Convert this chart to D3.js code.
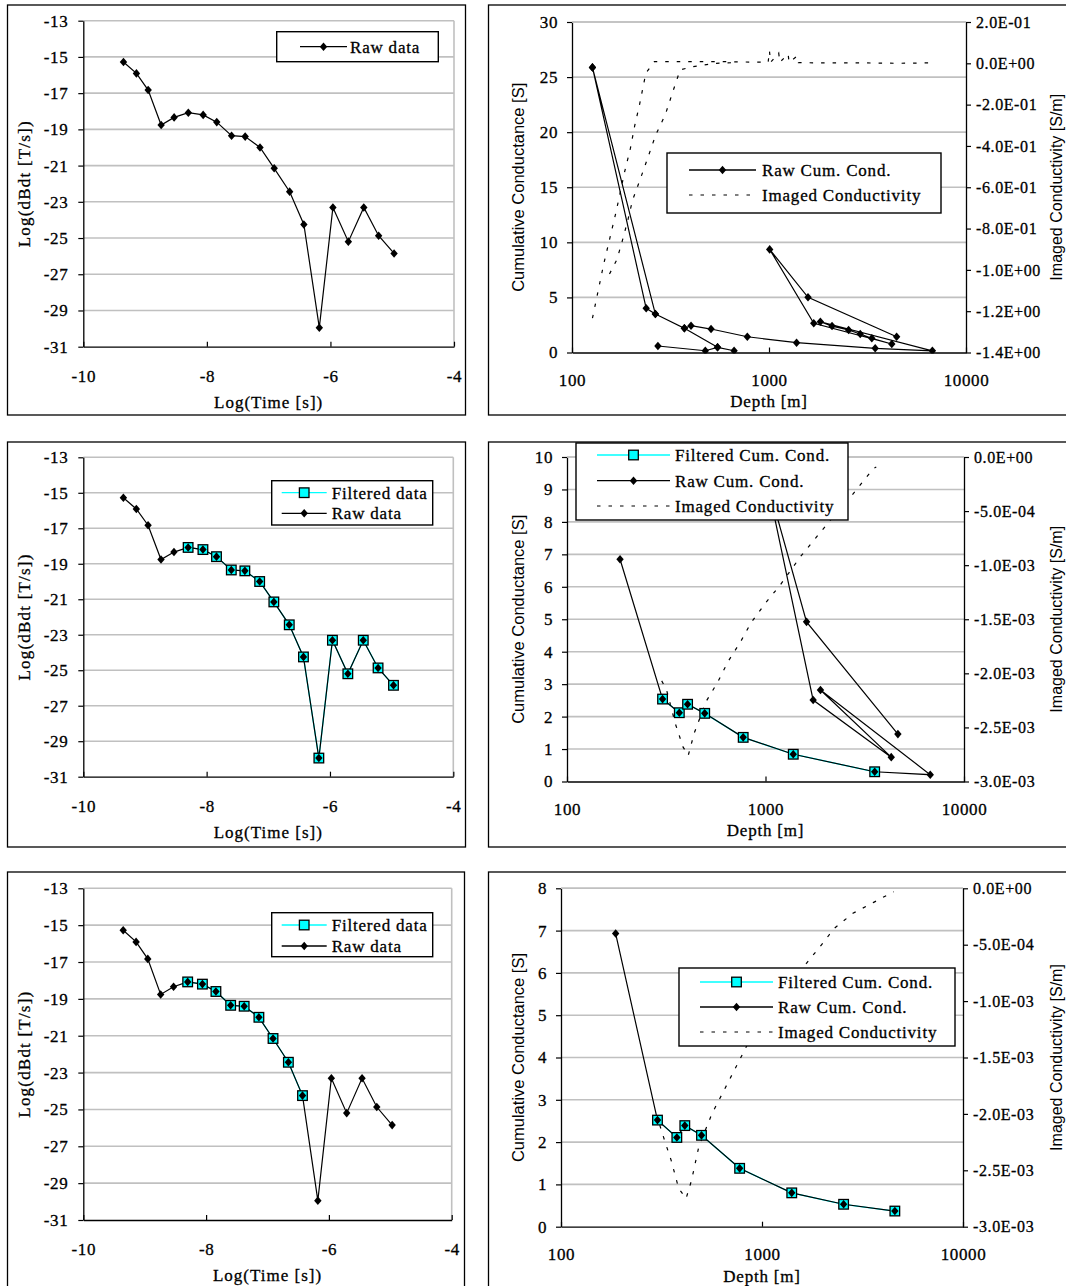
<!DOCTYPE html>
<html><head><meta charset="utf-8">
<script src="https://cdn.jsdelivr.net/npm/d3@7"></script>
<style>
body{margin:0;background:#fff}
svg{display:block}
</style></head><body>
<script>
// ================= DATA =================
// Transient decay (left column)
const logTime    = [-9.35,-9.14,-8.95,-8.74,-8.53,-8.30,-8.06,-7.84,-7.60,-7.38,-7.14,-6.91,-6.66,-6.43,-6.18,-5.96,-5.71,-5.46,-5.22,-4.97];
const rawLogDbdt = [-15.28,-15.91,-16.83,-18.76,-18.34,-18.08,-18.20,-18.60,-19.35,-19.40,-20.00,-21.15,-22.44,-24.25,-29.95,-23.31,-25.20,-23.31,-24.87,-25.85];
const filtALogTime = [-8.30,-8.06,-7.84,-7.60,-7.38,-7.14,-6.91,-6.66,-6.43,-6.18,-5.96,-5.71,-5.46,-5.22,-4.97];
const filtALogDbdt = [-18.08,-18.20,-18.60,-19.35,-19.40,-20.00,-21.15,-22.44,-24.25,-29.95,-23.31,-25.20,-23.31,-24.87,-25.85];
const filtBLogTime = [-8.30,-8.06,-7.84,-7.60,-7.38,-7.14,-6.91,-6.66,-6.43];
const filtBLogDbdt = [-18.08,-18.20,-18.60,-19.35,-19.40,-20.00,-21.15,-22.44,-24.25];
const decayYTicks = [-13,-15,-17,-19,-21,-23,-25,-27,-29,-31];
const decayXTicks = [-10,-8,-6,-4];

// Depth panels (right column); null = break in the line
const depthTicks = [100,1000,10000];
// panel 2
const raw2Depth = [127,238,265,372,402,508,776,1380,3459,6750,1823,2089,2535,2904,3325,4200,1687,1008,1578,4446,null,127,265,null,372,548,null,273,475,548,665];
const raw2Cum   = [25.88,4.01,3.49,2.20,2.43,2.13,1.43,0.89,0.38,0.15,2.79,2.40,2.04,1.68,1.29,0.77,2.65,9.36,5.01,1.43,null,25.88,3.49,null,2.20,0.47,null,0.59,0.16,0.47,0.16];
const cond2Depth = [127,145,166,171,185,198,208,220,230,237,262,400,600,800,990,1005,1020,1120,1135,1250,1265,1390,1410,2000,3000,4500,6500,null,155,169,180,192,203,222,243,266,298,325,354,410,470,540,700];
const cond2Val   = [-1.234,-0.97,-0.734,-0.678,-0.525,-0.411,-0.303,-0.202,-0.11,-0.048,0.008,0.008,0.008,0.006,0.005,0.06,0.005,0.05,0.005,0.045,0.005,0.035,0.003,0.002,0.002,0.0,0.002,null,-1.02,-0.95,-0.86,-0.76,-0.662,-0.561,-0.455,-0.347,-0.247,-0.137,-0.032,-0.016,-0.008,0.0,0.004];
const cum2Ticks  = [0,5,10,15,20,25,30];
const cond2Ticks = [0.2,0,-0.2,-0.4,-0.6,-0.8,-1.0,-1.2,-1.4];
// panel 4
const raw4Depth  = [185,303,368,405,494,772,1380,3548,6760,1892,4300,1738,1008,1610,4645];
const raw4Cum    = [6.85,2.54,2.12,2.38,2.10,1.36,0.84,0.30,0.21,2.82,0.75,2.51,9.36,4.92,1.46];
const filt4Depth = [303,368,405,494,772,1380,3548];
const filt4Cum   = [2.54,2.12,2.38,2.10,1.36,0.84,0.30];
const cond4Depth = [300,317,352,384,408,438,502,575,648,748,847,1000,1190,1502,1788,1932,2200,2450,2735,2951,3190,3515,3614];
const cond4Val   = [-2.07e-3,-2.15e-3,-2.47e-3,-2.68e-3,-2.76e-3,-2.55e-3,-2.26e-3,-2.08e-3,-1.89e-3,-1.71e-3,-1.53e-3,-1.35e-3,-1.18e-3,-0.92e-3,-0.75e-3,-0.675e-3,-0.55e-3,-0.45e-3,-0.35e-3,-0.274e-3,-0.197e-3,-0.104e-3,-0.093e-3];
const cum4Ticks  = [0,1,2,3,4,5,6,7,8,9,10];
// panel 6
const raw6Depth  = [187,302,377,413,500,774,1406,2547,4581];
const raw6Cum    = [6.93,2.52,2.11,2.39,2.16,1.38,0.80,0.53,0.37];
const filt6Depth = [302,377,413,500,774,1406,2547,4581];
const filt6Cum   = [2.52,2.11,2.39,2.16,1.38,0.80,0.53,0.37];
const cond6Depth = [310,331,353,385,419,446,485,563,674,774,869,1000,1200,1400,1664,1972,2290,2833,3573,4519];
const cond6Val   = [-2.1e-3,-2.26e-3,-2.41e-3,-2.66e-3,-2.75e-3,-2.59e-3,-2.29e-3,-2.0e-3,-1.73e-3,-1.52e-3,-1.345e-3,-1.17e-3,-0.98e-3,-0.82e-3,-0.665e-3,-0.503e-3,-0.355e-3,-0.222e-3,-0.127e-3,-0.03e-3];
const cum6Ticks  = [0,1,2,3,4,5,6,7,8];
const condSmallTicks = [0,-5e-4,-1e-3,-1.5e-3,-2e-3,-2.5e-3,-3e-3];

// ================= DRAWING =================
const SERIF = '"Liberation Serif","Times New Roman",serif';
const SANS  = '"Liberation Sans",Arial,sans-serif';
const GRID = "#c0c0c0";
const svg = d3.select("body").append("svg").attr("width",1066).attr("height",1286);
const zip = (a,b)=>a.map((v,i)=>[v,b[i]]);
const DIAMOND = "M0,-4.3L3.7,0L0,4.3L-3.7,0Z";

function serifText(sel, ls){
  return sel.style("font-family",SERIF).style("font-size","17px").style("letter-spacing",(ls||0.8)+"px")
    .attr("stroke","#000").attr("stroke-width",0.3).attr("fill","#000");
}
function styleAxis(ax, fs){
  ax.attr("font-family",null).attr("font-size",null);
  ax.select(".domain").attr("stroke","#000").attr("stroke-width",1.3);
  ax.selectAll(".tick line").attr("stroke","#000").attr("stroke-width",1.2);
  ax.selectAll("text").style("font-family",SERIF).style("font-size",(fs||17)+"px").style("letter-spacing","0.6px")
    .attr("fill","#000").attr("stroke","#000").attr("stroke-width",0.3);
}
function drawDiamonds(g, pts){
  g.append("g").selectAll("path").data(pts).join("path").attr("d",DIAMOND)
    .attr("transform",d=>`translate(${d[0]},${d[1]})`).attr("fill","#000");
}
function drawSquares(g, pts){
  g.append("g").selectAll("rect").data(pts).join("rect")
    .attr("x",d=>d[0]-4.8).attr("y",d=>d[1]-4.8).attr("width",9.6).attr("height",9.6)
    .attr("fill","#00ffff").attr("stroke","#000").attr("stroke-width",1.3);
}
function legend(g, o){
  g.append("rect").attr("x",o.bx).attr("y",o.by).attr("width",o.bw).attr("height",o.bh)
    .attr("fill","#fff").attr("stroke","#000").attr("stroke-width",1.4);
  o.items.forEach((it,i)=>{
    const y = o.rows[i], xm=(o.s0+o.s1)/2;
    if(it.type==="filt"){
      g.append("line").attr("x1",o.s0).attr("x2",o.s1).attr("y1",y).attr("y2",y).attr("stroke","#00ffff").attr("stroke-width",1.3);
      drawSquares(g,[[xm,y]]);
    } else if(it.type==="raw"){
      g.append("line").attr("x1",o.s0).attr("x2",o.s1).attr("y1",y).attr("y2",y).attr("stroke","#000").attr("stroke-width",1.3);
      drawDiamonds(g,[[xm,y]]);
    } else {
      g.append("line").attr("x1",o.s0).attr("x2",o.s1).attr("y1",y).attr("y2",y).attr("stroke","#000").attr("stroke-width",1.2).attr("stroke-dasharray","3.5,8");
    }
    serifText(g.append("text").attr("x",o.tx).attr("y",y).attr("dy","0.35em").text(it.label));
  });
}

function decayPanel(o){
  const g = svg.append("g");
  g.append("rect").attr("x",o.fx).attr("y",o.fy).attr("width",o.fw).attr("height",o.fh)
    .attr("fill","none").attr("stroke","#000").attr("stroke-width",1.3);
  const x = d3.scaleLinear().domain([-10,-4]).range([o.x0,o.x1]);
  const y = d3.scaleLinear().domain([-31,-13]).range([o.y1,o.y0]);
  g.append("g").selectAll("line").data(decayYTicks.filter(v=>v>-31)).join("line")
    .attr("x1",o.x0).attr("x2",o.x1).attr("y1",d=>y(d)).attr("y2",d=>y(d))
    .attr("stroke",GRID).attr("stroke-width",1.6);
  g.append("line").attr("x1",o.x1).attr("x2",o.x1).attr("y1",o.y0).attr("y2",o.y1).attr("stroke",GRID).attr("stroke-width",1.6);
  const ay = g.append("g").attr("transform",`translate(${o.x0},0)`)
    .call(d3.axisLeft(y).tickValues(decayYTicks).tickSize(5).tickSizeOuter(0).tickPadding(10).tickFormat(d=>String(d)));
  styleAxis(ay);
  const ax = g.append("g").attr("transform",`translate(0,${o.y1})`)
    .call(d3.axisBottom(x).tickValues(decayXTicks).tickSizeInner(-5).tickSizeOuter(0).tickPadding(23).tickFormat(d=>String(d)));
  styleAxis(ax);
  serifText(g.append("text").attr("x",(o.x0+o.x1)/2).attr("y",o.y1+55).attr("dy","0.35em").attr("text-anchor","middle")
    .text("Log(Time [s])"),1);
  serifText(g.append("text").attr("transform",`translate(${o.fx+17},${(o.y0+o.y1)/2}) rotate(-90)`).attr("dy","0.35em").attr("text-anchor","middle")
    .text("Log(dBdt [T/s])"),1.2);
  const line = d3.line().x(d=>x(d[0])).y(d=>y(d[1]));
  const raw = zip(logTime,rawLogDbdt);
  if(o.filt){
    const f = zip(o.filt[0],o.filt[1]);
    g.append("path").attr("d",line(f)).attr("fill","none").attr("stroke","#00ffff").attr("stroke-width",1.3);
  }
  g.append("path").attr("d",line(raw)).attr("fill","none").attr("stroke","#000").attr("stroke-width",1.2);
  if(o.filt) drawSquares(g, zip(o.filt[0],o.filt[1]).map(d=>[x(d[0]),y(d[1])]));
  drawDiamonds(g, raw.map(d=>[x(d[0]),y(d[1])]));
  legend(g, o.leg);
}

function fmtE(v){
  if(Math.abs(v)<1e-12) v=0;
  let s = v.toExponential(1);
  let [m,e] = s.split("e");
  let sign = e[0]==="-"?"-":"+";
  let digits = e.replace(/^[+-]/,"");
  if(digits.length<2) digits="0"+digits;
  return m+"E"+sign+digits;
}

function depthPanel(o){
  const g = svg.append("g");
  g.append("rect").attr("x",o.fx).attr("y",o.fy).attr("width",o.fw).attr("height",o.fh)
    .attr("fill","none").attr("stroke","#000").attr("stroke-width",1.3);
  const x  = d3.scaleLog().domain([100,10000]).range([o.x0,o.x1]);
  const yL = d3.scaleLinear().domain([0,o.yMax]).range([o.y1,o.y0]);
  const yR = d3.scaleLinear().domain(o.rDom).range([o.y1,o.y0]);
  g.append("g").selectAll("line").data(o.yTicks.filter(v=>v>0)).join("line")
    .attr("x1",o.x0).attr("x2",o.x1).attr("y1",d=>yL(d)).attr("y2",d=>yL(d))
    .attr("stroke",GRID).attr("stroke-width",1.6);
  const clipId = "clip"+o.id;
  svg.append("clipPath").attr("id",clipId).append("rect").attr("x",o.x0).attr("y",o.y0-1).attr("width",o.x1-o.x0).attr("height",o.y1-o.y0+2);
  const data = g.append("g").attr("clip-path",`url(#${clipId})`);
  const def = d=>d[0]!=null && d[1]!=null;
  const lineL = d3.line().defined(def).x(d=>x(d[0])).y(d=>yL(d[1]));
  const lineR = d3.line().defined(def).x(d=>x(d[0])).y(d=>yR(d[1]));
  data.append("path").attr("d",lineR(zip(o.cond[0],o.cond[1]))).attr("fill","none")
    .attr("stroke","#000").attr("stroke-width",1.2).attr("stroke-dasharray","3.5,8");
  if(o.filt) data.append("path").attr("d",lineL(zip(o.filt[0],o.filt[1]))).attr("fill","none").attr("stroke","#00ffff").attr("stroke-width",1.3);
  const raw = zip(o.raw[0],o.raw[1]);
  data.append("path").attr("d",lineL(raw)).attr("fill","none").attr("stroke","#000").attr("stroke-width",1.2);
  if(o.filt) drawSquares(data, zip(o.filt[0],o.filt[1]).map(d=>[x(d[0]),yL(d[1])]));
  drawDiamonds(data, raw.filter(def).map(d=>[x(d[0]),yL(d[1])]));
  const ay = g.append("g").attr("transform",`translate(${o.x0},0)`)
    .call(d3.axisLeft(yL).tickValues(o.yTicks).tickSize(5).tickSizeOuter(0).tickPadding(9).tickFormat(d=>String(d)));
  styleAxis(ay);
  const ar = g.append("g").attr("transform",`translate(${o.x1},0)`)
    .call(d3.axisRight(yR).tickValues(o.rTicks).tickSize(5).tickSizeOuter(0).tickPadding(5).tickFormat(fmtE));
  styleAxis(ar,16);
  const ax = g.append("g").attr("transform",`translate(0,${o.y1})`)
    .call(d3.axisBottom(x).tickValues(depthTicks).tickSizeInner(-5).tickSizeOuter(0).tickPadding(21).tickFormat(d=>String(d)));
  styleAxis(ax);
  g.append("line").attr("x1",o.x0).attr("x2",o.x1).attr("y1",o.y0).attr("y2",o.y0).attr("stroke",GRID).attr("stroke-width",1.6);
  serifText(g.append("text").attr("x",(o.x0+o.x1)/2).attr("y",o.y1+49).attr("dy","0.35em").attr("text-anchor","middle")
    .text("Depth [m]"));
  g.append("text").attr("transform",`translate(${o.fx+30},${(o.y0+o.y1)/2}) rotate(-90)`).attr("dy","0.35em").attr("text-anchor","middle")
    .text("Cumulative Conductance [S]").style("font-family",SANS).style("font-size","16.5px");
  g.append("text").attr("transform",`translate(1056,${(o.y0+o.y1)/2}) rotate(-90)`).attr("dy","0.35em").attr("text-anchor","middle")
    .text("Imaged Conductivity [S/m]").style("font-family",SANS).style("font-size","16px");
  legend(g, o.leg);
}

// ---- left column ----
decayPanel({fx:7.5,fy:5,fw:458,fh:410,x0:83.3,x1:454,y0:20.7,y1:346.7,
  leg:{bx:276.7,by:31.7,bw:161.6,bh:30,rows:[46.7],s0:300,s1:347,tx:350,items:[{type:"raw",label:"Raw data"}]}});
decayPanel({fx:7.5,fy:442,fw:458,fh:405,x0:83.3,x1:453.3,y0:457.3,y1:776.7,filt:[filtALogTime,filtALogDbdt],
  leg:{bx:271.7,by:480.7,bw:161,bh:44.3,rows:[492.7,513.3],s0:281.7,s1:326.7,tx:331.7,
       items:[{type:"filt",label:"Filtered data"},{type:"raw",label:"Raw data"}]}});
decayPanel({fx:7.5,fy:872,fw:457,fh:420,x0:83.3,x1:451.7,y0:888.3,y1:1220,filt:[filtBLogTime,filtBLogDbdt],
  leg:{bx:271.7,by:912.7,bw:161,bh:44,rows:[925,946],s0:281.7,s1:326.7,tx:331.7,
       items:[{type:"filt",label:"Filtered data"},{type:"raw",label:"Raw data"}]}});

// ---- right column ----
depthPanel({id:2,fx:488.5,fy:5,fw:600,fh:410,x0:572,x1:966,y0:22,y1:352.5,yMax:30,yTicks:cum2Ticks,
  rDom:[-1.4,0.2],rTicks:cond2Ticks,raw:[raw2Depth,raw2Cum],cond:[cond2Depth,cond2Val],
  leg:{bx:667,by:153,bw:274,bh:60,rows:[170,195],s0:689,s1:756,tx:762,
       items:[{type:"raw",label:"Raw Cum. Cond."},{type:"cond",label:"Imaged Conductivity"}]}});
depthPanel({id:4,fx:488.5,fy:442,fw:600,fh:405,x0:567,x1:964,y0:457,y1:781.5,yMax:10,yTicks:cum4Ticks,
  rDom:[-3e-3,0],rTicks:condSmallTicks,raw:[raw4Depth,raw4Cum],filt:[filt4Depth,filt4Cum],cond:[cond4Depth,cond4Val],
  leg:{bx:576,by:443,bw:272,bh:77,rows:[455,480.7,506],s0:597,s1:670,tx:675,
       items:[{type:"filt",label:"Filtered Cum. Cond."},{type:"raw",label:"Raw Cum. Cond."},{type:"cond",label:"Imaged Conductivity"}]}});
depthPanel({id:6,fx:488.5,fy:872,fw:600,fh:420,x0:561,x1:963,y0:888.3,y1:1226.7,yMax:8,yTicks:cum6Ticks,
  rDom:[-3e-3,0],rTicks:condSmallTicks,raw:[raw6Depth,raw6Cum],filt:[filt6Depth,filt6Cum],cond:[cond6Depth,cond6Val],
  leg:{bx:679,by:968,bw:276,bh:78,rows:[982,1007,1032],s0:700,s1:773,tx:778,
       items:[{type:"filt",label:"Filtered Cum. Cond."},{type:"raw",label:"Raw Cum. Cond."},{type:"cond",label:"Imaged Conductivity"}]}});
</script>
</body></html>
